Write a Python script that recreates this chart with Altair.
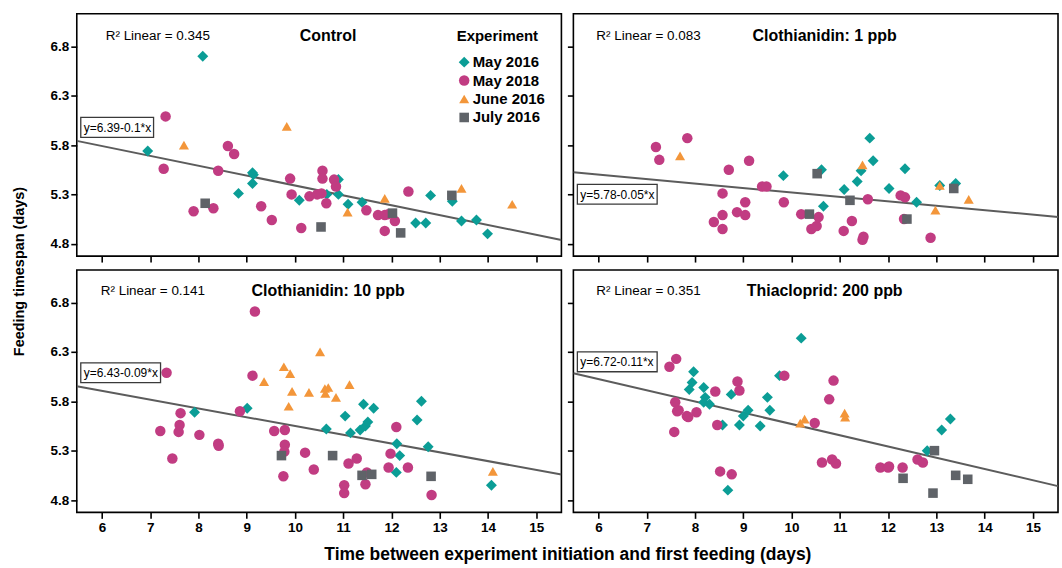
import altair as alt
import pandas as pd

# ---------------- data ----------------
experiments = ["May 2016", "May 2018", "June 2016", "July 2016"]
exp_colors = ["#0b9d96", "#c13c82", "#f3963a", "#5f6368"]
exp_shapes = ["diamond", "circle", "triangle-up", "square"]
exp_sizes = [120, 92, 55, 78]

panel_titles = ["Control", "Clothianidin: 1 ppb", "Clothianidin: 10 ppb", "Thiacloprid: 200 ppb"]
r2_values = ["0.345", "0.083", "0.141", "0.351"]
eq_labels = ["y=6.39-0.1*x", "y=5.78-0.05*x", "y=6.43-0.09*x", "y=6.72-0.11*x"]
intercepts = [6.39, 5.77, 6.44, 6.71]
slopes = [-0.100, -0.045, -0.089, -0.114]

x_ticks = [6, 7, 8, 9, 10, 11, 12, 13, 14, 15]
y_ticks = [4.8, 5.3, 5.8, 6.3, 6.8]
x_domain = [5.48, 15.52]
y_domain = [4.675, 7.13]

# Control
ctrl_may16_x = [6.95, 8.09, 9.12, 9.14, 9.12, 8.83, 10.09, 10.66, 10.90, 10.90, 11.10, 11.39, 12.50, 12.71, 12.81, 13.26, 13.45, 13.76, 13.99]
ctrl_may16_y = [5.74, 6.70, 5.52, 5.50, 5.41, 5.31, 5.24, 5.30, 5.45, 5.30, 5.20, 5.22, 5.01, 5.01, 5.29, 5.23, 5.03, 5.04, 4.90]
ctrl_may18_x = [7.32, 7.28, 7.90, 8.31, 8.41, 8.61, 8.74, 9.30, 9.52, 9.90, 9.93, 10.13, 10.30, 10.46, 10.55, 10.57, 10.57, 10.65, 10.81, 10.85, 11.48, 11.72, 11.86, 11.93, 11.86, 12.07, 12.35]
ctrl_may18_y = [6.09, 5.56, 5.13, 5.16, 5.54, 5.79, 5.71, 5.18, 5.04, 5.46, 5.30, 4.96, 5.28, 5.30, 5.31, 5.54, 5.46, 5.21, 5.45, 5.38, 5.14, 5.09, 5.09, 5.10, 4.93, 5.03, 5.33]
ctrl_jun16_x = [7.70, 9.83, 11.09, 11.86, 13.45, 14.50]
ctrl_jun16_y = [5.80, 5.99, 5.12, 5.26, 5.36, 5.20]
ctrl_jul16_x = [8.14, 10.54, 12.02, 12.19, 13.25]
ctrl_jul16_y = [5.21, 4.97, 5.11, 4.91, 5.29]

# Clothianidin 1 ppb
c1_may16_x = [9.83, 10.62, 10.66, 11.09, 11.36, 11.44, 11.62, 11.69, 12.02, 12.35, 12.59, 13.07, 13.40]
c1_may16_y = [5.49, 5.55, 5.18, 5.35, 5.43, 5.54, 5.87, 5.64, 5.36, 5.56, 5.22, 5.39, 5.41]
c1_may18_x = [7.19, 7.26, 7.84, 8.39, 8.57, 8.57, 8.57, 8.70, 8.87, 9.04, 9.04, 9.12, 9.39, 9.48, 9.84, 10.20, 10.41, 10.52, 10.56, 11.08, 11.25, 11.47, 11.49, 11.58, 12.26, 12.35, 12.33, 12.88]
c1_may18_y = [5.78, 5.65, 5.87, 5.02, 5.31, 5.09, 4.95, 5.55, 5.12, 5.22, 5.09, 5.64, 5.38, 5.38, 5.22, 5.10, 4.95, 4.98, 5.07, 4.93, 5.03, 4.84, 4.87, 5.25, 5.29, 5.27, 5.05, 4.86]
c1_jun16_x = [7.69, 11.47, 12.98, 13.07, 13.67]
c1_jun16_y = [5.69, 5.60, 5.14, 5.39, 5.25]
c1_jul16_x = [10.53, 10.37, 11.21, 12.39, 13.36]
c1_jul16_y = [5.51, 5.10, 5.24, 5.05, 5.36]

# Clothianidin 10 ppb
c10_may16_x = [7.92, 9.01, 10.65, 11.04, 11.15, 11.35, 11.42, 11.46, 11.51, 11.63, 12.11, 12.17, 12.10, 12.53, 12.62, 12.76, 14.07]
c10_may16_y = [5.69, 5.73, 5.52, 5.65, 5.48, 5.51, 5.77, 5.55, 5.59, 5.73, 5.37, 5.25, 5.08, 5.61, 5.80, 5.34, 4.95]
c10_may18_x = [7.34, 7.21, 7.46, 7.59, 7.61, 7.63, 8.02, 8.41, 8.42, 8.86, 9.17, 9.12, 9.57, 9.79, 9.79, 9.78, 9.76, 10.21, 10.39, 11.02, 11.02, 11.11, 11.28, 11.46, 11.49, 12.10, 11.98, 11.94, 12.34, 12.83]
c10_may18_y = [6.09, 5.50, 5.22, 5.49, 5.56, 5.68, 5.46, 5.37, 5.35, 5.70, 6.71, 6.06, 5.50, 5.51, 5.36, 5.29, 5.04, 5.28, 5.11, 4.95, 4.87, 5.17, 5.22, 4.96, 5.08, 5.54, 5.27, 5.13, 5.13, 4.85]
c10_jun16_x = [9.36, 9.77, 9.90, 9.94, 9.87, 10.29, 10.52, 10.63, 10.62, 10.69, 10.85, 11.13, 14.10]
c10_jun16_y = [6.00, 6.15, 6.08, 5.90, 5.75, 5.89, 6.30, 5.88, 5.93, 5.94, 5.84, 5.97, 5.09]
c10_jul16_x = [9.72, 10.78, 11.39, 11.59, 12.82]
c10_jul16_y = [5.25, 5.25, 5.05, 5.06, 5.04]

# Thiacloprid 200 ppb
t_may16_x = [7.88, 7.94, 7.97, 8.18, 8.21, 8.18, 8.30, 8.57, 8.68, 8.75, 8.92, 9.00, 9.10, 9.35, 9.50, 9.55, 9.75, 10.20, 12.81, 13.11, 13.29]
t_may16_y = [5.92, 5.99, 6.10, 5.94, 5.84, 5.79, 5.77, 5.56, 4.90, 5.87, 5.56, 5.65, 5.71, 5.55, 5.84, 5.71, 6.06, 6.44, 5.30, 5.51, 5.62]
t_may18_x = [7.47, 7.61, 7.59, 7.63, 7.66, 7.57, 7.83, 7.86, 8.03, 8.42, 8.46, 8.52, 8.76, 8.88, 8.92, 9.85, 10.48, 10.63, 10.78, 10.84, 10.92, 10.87, 11.84, 12.00, 12.02, 12.30, 12.61, 12.72]
t_may18_y = [6.15, 6.23, 5.79, 5.70, 5.71, 5.49, 5.65, 5.64, 5.69, 5.90, 5.56, 5.09, 5.06, 6.00, 5.91, 6.06, 5.58, 5.18, 5.82, 5.21, 5.17, 6.01, 5.13, 5.13, 5.14, 5.13, 5.21, 5.18]
t_jun16_x = [10.18, 10.27, 11.10, 11.11]
t_jun16_y = [5.58, 5.62, 5.68, 5.64]
t_jul16_x = [12.31, 12.96, 12.93, 13.40, 13.65]
t_jul16_y = [5.02, 5.30, 4.87, 5.05, 5.01]

panel_series = [
    [(ctrl_may16_x, ctrl_may16_y), (ctrl_may18_x, ctrl_may18_y), (ctrl_jun16_x, ctrl_jun16_y), (ctrl_jul16_x, ctrl_jul16_y)],
    [(c1_may16_x, c1_may16_y), (c1_may18_x, c1_may18_y), (c1_jun16_x, c1_jun16_y), (c1_jul16_x, c1_jul16_y)],
    [(c10_may16_x, c10_may16_y), (c10_may18_x, c10_may18_y), (c10_jun16_x, c10_jun16_y), (c10_jul16_x, c10_jul16_y)],
    [(t_may16_x, t_may16_y), (t_may18_x, t_may18_y), (t_jun16_x, t_jun16_y), (t_jul16_x, t_jul16_y)],
]

# ---------------- layout / style ----------------
W, H = 486, 243
r2_x = [29, 23, 24, 23]
r2_y = [22, 22, 21, 21]
box_top = [104, 171, 93, 82]
box_w = [73, 80, 80, 80]
title_x = 252
FONT = "Liberation Sans"


def make_panel(i):
    rows = []
    for e, (xs, ys) in zip(experiments, panel_series[i]):
        for xv, yv in zip(xs, ys):
            rows.append({"x": xv, "y": yv, "Experiment": e})
    df = pd.DataFrame(rows)

    left = i % 2 == 0
    bottom = i >= 2

    x_axis_kw = dict(values=x_ticks, labels=bottom, title=None)
    if bottom:
        x_axis_kw.update(labelFont=FONT, labelFontSize=13.5, labelFontWeight="bold", labelPadding=2)
    if i == 2:
        x_axis_kw.update(title="Time between experiment initiation and first feeding (days)",
                         titleX=492, titleY=33, titleAlign="center", titleBaseline="top",
                         titleFont=FONT, titleFontSize=17.5, titleFontWeight="bold")
    y_axis_kw = dict(values=y_ticks, labels=left, format=".1f", title=None)
    if i == 0:
        y_axis_kw.update(title="Feeding timespan (days)", titleX=-57, titleY=258, titleAngle=270,
                         titleAlign="center", titleBaseline="middle",
                         titleFont=FONT, titleFontSize=14.5, titleFontWeight="bold")

    xs = alt.X("x:Q", scale=alt.Scale(domain=x_domain, nice=False, zero=False), axis=alt.Axis(**x_axis_kw))
    ys = alt.Y("y:Q", scale=alt.Scale(domain=y_domain, nice=False, zero=False), axis=alt.Axis(**y_axis_kw))

    if i == 0:
        legend = alt.Legend(orient="none", legendX=381, legendY=15, title="Experiment",
                            titleFont=FONT, titleFontSize=15, titleFontWeight="bold", titleColor="black",
                            titlePadding=11, labelFont=FONT, labelFontSize=15, labelFontWeight="bold",
                            labelColor="black", symbolSize=110, rowPadding=2.5, labelOffset=1,
                            symbolStrokeWidth=0)
    else:
        legend = None

    points = alt.Chart(df).mark_point(filled=True, opacity=1).encode(
        x=xs, y=ys,
        color=alt.Color("Experiment:N", scale=alt.Scale(domain=experiments, range=exp_colors), legend=legend),
        shape=alt.Shape("Experiment:N", scale=alt.Scale(domain=experiments, range=exp_shapes), legend=legend),
        size=alt.Size("Experiment:N", scale=alt.Scale(domain=experiments, range=exp_sizes), legend=None),
    )

    line_df = pd.DataFrame({"x": x_domain, "y": [intercepts[i] + slopes[i] * v for v in x_domain]})
    line = alt.Chart(line_df).mark_line(color="#5c5c5c", strokeWidth=2, clip=True).encode(
        x=alt.X("x:Q"), y=alt.Y("y:Q"))

    lab_df = pd.DataFrame({"title": [panel_titles[i]], "r2": ["R\u00b2 Linear = " + r2_values[i]],
                           "eq": [eq_labels[i]]})
    title = alt.Chart(lab_df).mark_text(font=FONT, fontSize=16, fontWeight="bold", color="black",
                                        align="center", baseline="middle").encode(
        x=alt.value(title_x), y=alt.value(r2_y[i]), text="title:N")
    r2 = alt.Chart(lab_df).mark_text(font=FONT, fontSize=13.5, color="black", align="left",
                                     baseline="middle").encode(
        x=alt.value(r2_x[i]), y=alt.value(r2_y[i]), text="r2:N")
    box = alt.Chart(lab_df).mark_rect(fill="white", stroke="#3a3a3a", strokeWidth=1.3).encode(
        x=alt.value(4), x2=alt.value(4 + box_w[i]), y=alt.value(box_top[i]), y2=alt.value(box_top[i] + 20))
    eq = alt.Chart(lab_df).mark_text(font=FONT, fontSize=12, color="black", align="left",
                                     baseline="middle").encode(
        x=alt.value(7), y=alt.value(box_top[i] + 10.5), text="eq:N")

    return alt.layer(line, points, box, eq, r2, title).properties(width=W, height=H)


panels = [make_panel(i) for i in range(4)]

chart = alt.concat(*panels, columns=2, spacing={"row": 14, "column": 12}, bounds="flush").resolve_legend(
    color="independent", shape="independent", size="independent"
).properties(
    padding={"left": 11, "top": 12, "right": 3, "bottom": 3},
    background="white",
).configure_view(
    stroke="black", strokeWidth=1.6
).configure_axis(
    domain=False, grid=False, tickColor="black", tickWidth=1.6, tickSize=6,
    labelFont=FONT, labelFontSize=13.5, labelFontWeight="bold", labelColor="black", labelPadding=2,
    titleColor="black"
)

chart.save("out.html", embed_options={"renderer": "svg", "actions": False})
